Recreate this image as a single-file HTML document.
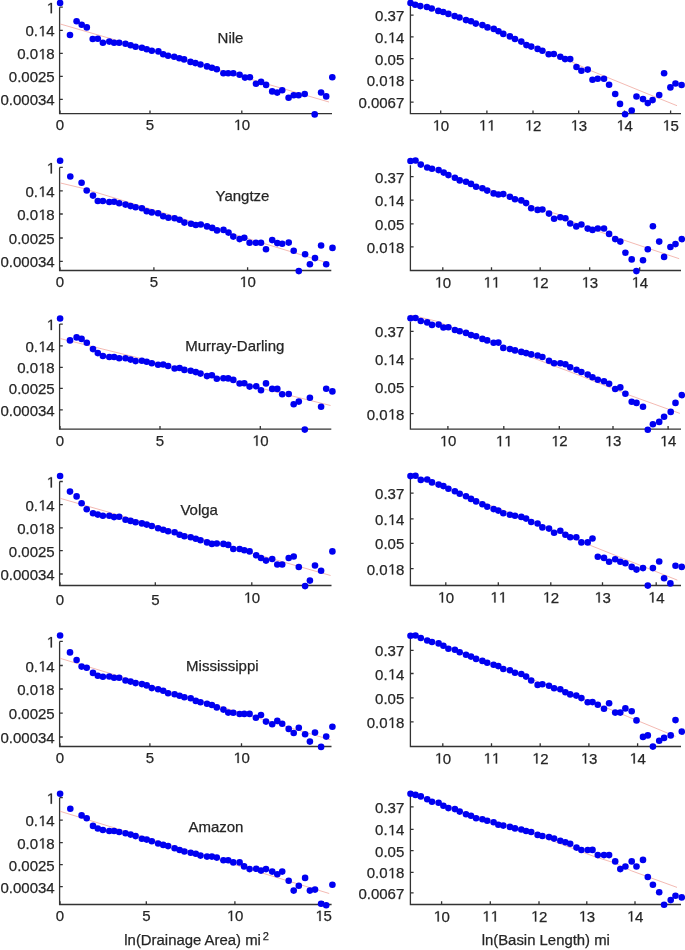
<!DOCTYPE html>
<html><head><meta charset="utf-8"><style>
html,body{margin:0;padding:0;background:#fff;width:685px;height:950px;overflow:hidden}
svg{display:block;will-change:transform}
text{font-family:"Liberation Sans",sans-serif;font-size:15px;fill:#262626;stroke:#262626;stroke-width:0.25}
.h{fill-opacity:0;stroke-opacity:0}
.yl{text-anchor:end}
.xl{text-anchor:middle}
.ax{fill:none;stroke:#333;stroke-width:1.3}
.fit{fill:none;stroke:#f0a8a0;stroke-width:0.8}
circle{fill:#0000f0}
.one{fill:#262626;stroke:#262626;stroke-width:34}
</style></head><body>
<svg width="685" height="950" viewBox="0 0 685 950">
<path d="M59.6 7.2V113.6H332" class="ax"/>
<path d="M59.6 7.2h3.2M59.6 30.3h3.2M59.6 53.3h3.2M59.6 76.3h3.2M59.6 99.3h3.2M60 113.6v-3.2M150 113.6v-3.2M241.8 113.6v-3.2" class="ax"/>
<text x="54.7" y="13.2" class="yl"><tspan class="h">1</tspan></text><path d="M583 0V1237L265 1010V1180L598 1409H764V0Z" class="one" transform="translate(46.36 13.20) scale(0.007324 -0.007324)"/>
<text x="54.7" y="36.3" class="yl">0.<tspan class="h">1</tspan>4</text><path d="M583 0V1237L265 1010V1180L598 1409H764V0Z" class="one" transform="translate(38.02 36.30) scale(0.007324 -0.007324)"/>
<text x="54.7" y="59.3" class="yl">0.0<tspan class="h">1</tspan>8</text><path d="M583 0V1237L265 1010V1180L598 1409H764V0Z" class="one" transform="translate(38.02 59.30) scale(0.007324 -0.007324)"/>
<text x="54.7" y="82.3" class="yl">0.0025</text>
<text x="54.7" y="105.3" class="yl">0.00034</text>
<text x="60" y="130.1" class="xl">0</text>
<text x="150" y="130.1" class="xl">5</text>
<text x="241.8" y="130.1" class="xl"><tspan class="h">1</tspan>0</text><path d="M583 0V1237L265 1010V1180L598 1409H764V0Z" class="one" transform="translate(233.46 130.10) scale(0.007324 -0.007324)"/>
<polyline points="60.3,24 329,102" class="fit"/>
<circle cx="60.1" cy="2.9" r="3.3"/>
<circle cx="70" cy="35" r="3.3"/>
<circle cx="76.6" cy="21.2" r="3.3"/>
<circle cx="81.7" cy="24.8" r="3.3"/>
<circle cx="86.8" cy="27.4" r="3.3"/>
<circle cx="92.7" cy="39" r="3.3"/>
<circle cx="97.8" cy="38.7" r="3.3"/>
<circle cx="102.9" cy="42.8" r="3.3"/>
<circle cx="109.3" cy="41.6" r="3.3"/>
<circle cx="114.1" cy="42.8" r="3.3"/>
<circle cx="119.2" cy="42.8" r="3.3"/>
<circle cx="125.5" cy="43.8" r="3.3"/>
<circle cx="130.6" cy="45.3" r="3.3"/>
<circle cx="135.6" cy="46.7" r="3.3"/>
<circle cx="141.9" cy="47.7" r="3.3"/>
<circle cx="146.7" cy="49.2" r="3.3"/>
<circle cx="151.8" cy="50.8" r="3.3"/>
<circle cx="158.4" cy="51.4" r="3.3"/>
<circle cx="163.2" cy="54.3" r="3.3"/>
<circle cx="168.1" cy="55.8" r="3.3"/>
<circle cx="174.2" cy="56.8" r="3.3"/>
<circle cx="179.3" cy="58.2" r="3.3"/>
<circle cx="184.1" cy="59.4" r="3.3"/>
<circle cx="190.5" cy="61.9" r="3.3"/>
<circle cx="195.4" cy="63.1" r="3.3"/>
<circle cx="200.5" cy="64.5" r="3.3"/>
<circle cx="207" cy="66.4" r="3.3"/>
<circle cx="211.9" cy="67.7" r="3.3"/>
<circle cx="216.8" cy="69.2" r="3.3"/>
<circle cx="223.4" cy="73.3" r="3.3"/>
<circle cx="228.2" cy="73.3" r="3.3"/>
<circle cx="233.3" cy="73.3" r="3.3"/>
<circle cx="239.6" cy="74.7" r="3.3"/>
<circle cx="245" cy="77.6" r="3.3"/>
<circle cx="249.9" cy="77.3" r="3.3"/>
<circle cx="256" cy="83.7" r="3.3"/>
<circle cx="261.1" cy="81.9" r="3.3"/>
<circle cx="266.1" cy="84.9" r="3.3"/>
<circle cx="272.2" cy="91.4" r="3.3"/>
<circle cx="277.2" cy="92.6" r="3.3"/>
<circle cx="282.2" cy="90.2" r="3.3"/>
<circle cx="288.6" cy="97.8" r="3.3"/>
<circle cx="293.7" cy="95.2" r="3.3"/>
<circle cx="298.6" cy="95.2" r="3.3"/>
<circle cx="304.7" cy="94" r="3.3"/>
<circle cx="314.7" cy="114.4" r="3.3"/>
<circle cx="321.1" cy="92.5" r="3.3"/>
<circle cx="326.2" cy="96.4" r="3.3"/>
<circle cx="332.3" cy="77.3" r="3.3"/>
<path d="M410.4 4V113.6H681" class="ax"/>
<path d="M410.4 15.2h3.2M410.4 36.8h3.2M410.4 58.6h3.2M410.4 80.3h3.2M410.4 102.1h3.2M440.7 113.6v-3.2M486.9 113.6v-3.2M533 113.6v-3.2M578.7 113.6v-3.2M624.5 113.6v-3.2M670.6 113.6v-3.2" class="ax"/>
<text x="404.3" y="21.2" class="yl">0.37</text>
<text x="404.3" y="42.8" class="yl">0.<tspan class="h">1</tspan>4</text><path d="M583 0V1237L265 1010V1180L598 1409H764V0Z" class="one" transform="translate(387.62 42.80) scale(0.007324 -0.007324)"/>
<text x="404.3" y="64.6" class="yl">0.05</text>
<text x="404.3" y="86.3" class="yl">0.0<tspan class="h">1</tspan>8</text><path d="M583 0V1237L265 1010V1180L598 1409H764V0Z" class="one" transform="translate(387.62 86.30) scale(0.007324 -0.007324)"/>
<text x="404.3" y="108.1" class="yl">0.0067</text>
<text x="440.7" y="130.6" class="xl"><tspan class="h">1</tspan>0</text><path d="M583 0V1237L265 1010V1180L598 1409H764V0Z" class="one" transform="translate(432.36 130.60) scale(0.007324 -0.007324)"/>
<text x="486.9" y="130.6" class="xl"><tspan class="h">1</tspan><tspan class="h">1</tspan></text><path d="M583 0V1237L265 1010V1180L598 1409H764V0Z" class="one" transform="translate(478.56 130.60) scale(0.007324 -0.007324)"/><path d="M583 0V1237L265 1010V1180L598 1409H764V0Z" class="one" transform="translate(486.90 130.60) scale(0.007324 -0.007324)"/>
<text x="533" y="130.6" class="xl"><tspan class="h">1</tspan>2</text><path d="M583 0V1237L265 1010V1180L598 1409H764V0Z" class="one" transform="translate(524.66 130.60) scale(0.007324 -0.007324)"/>
<text x="578.7" y="130.6" class="xl"><tspan class="h">1</tspan>3</text><path d="M583 0V1237L265 1010V1180L598 1409H764V0Z" class="one" transform="translate(570.36 130.60) scale(0.007324 -0.007324)"/>
<text x="624.5" y="130.6" class="xl"><tspan class="h">1</tspan>4</text><path d="M583 0V1237L265 1010V1180L598 1409H764V0Z" class="one" transform="translate(616.16 130.60) scale(0.007324 -0.007324)"/>
<text x="670.6" y="130.6" class="xl"><tspan class="h">1</tspan>5</text><path d="M583 0V1237L265 1010V1180L598 1409H764V0Z" class="one" transform="translate(662.26 130.60) scale(0.007324 -0.007324)"/>
<polyline points="410.5,3 466,20 504,34 572,62 591,70.7 648,94 677,105.7" class="fit"/>
<circle cx="410.5" cy="2.9" r="3.3"/>
<circle cx="415.2" cy="4.7" r="3.3"/>
<circle cx="420.3" cy="6.1" r="3.3"/>
<circle cx="426.9" cy="7" r="3.3"/>
<circle cx="431.7" cy="8.5" r="3.3"/>
<circle cx="438.3" cy="10.9" r="3.3"/>
<circle cx="443.2" cy="12" r="3.3"/>
<circle cx="448.4" cy="13.9" r="3.3"/>
<circle cx="454.6" cy="16.1" r="3.3"/>
<circle cx="459.5" cy="17.5" r="3.3"/>
<circle cx="466" cy="20.1" r="3.3"/>
<circle cx="471" cy="21.2" r="3.3"/>
<circle cx="475.8" cy="23.6" r="3.3"/>
<circle cx="482.4" cy="25.1" r="3.3"/>
<circle cx="487.5" cy="27.4" r="3.3"/>
<circle cx="493.8" cy="28.9" r="3.3"/>
<circle cx="498.5" cy="31.2" r="3.3"/>
<circle cx="503.3" cy="33.9" r="3.3"/>
<circle cx="509.9" cy="36.4" r="3.3"/>
<circle cx="515" cy="39" r="3.3"/>
<circle cx="521.3" cy="41.6" r="3.3"/>
<circle cx="526.4" cy="45.1" r="3.3"/>
<circle cx="531.2" cy="46.6" r="3.3"/>
<circle cx="537.6" cy="48.9" r="3.3"/>
<circle cx="542.4" cy="50.7" r="3.3"/>
<circle cx="548.7" cy="54.3" r="3.3"/>
<circle cx="553.8" cy="54" r="3.3"/>
<circle cx="560.3" cy="56.8" r="3.3"/>
<circle cx="565.1" cy="59.1" r="3.3"/>
<circle cx="570.2" cy="59.1" r="3.3"/>
<circle cx="576.5" cy="67" r="3.3"/>
<circle cx="581.4" cy="70.7" r="3.3"/>
<circle cx="587.7" cy="69.6" r="3.3"/>
<circle cx="592.5" cy="79.8" r="3.3"/>
<circle cx="597.7" cy="78.7" r="3.3"/>
<circle cx="604" cy="78.7" r="3.3"/>
<circle cx="609.1" cy="84.8" r="3.3"/>
<circle cx="615.2" cy="94" r="3.3"/>
<circle cx="620" cy="103.9" r="3.3"/>
<circle cx="625.1" cy="114.2" r="3.3"/>
<circle cx="631.7" cy="110.5" r="3.3"/>
<circle cx="636.5" cy="96.5" r="3.3"/>
<circle cx="643" cy="99.1" r="3.3"/>
<circle cx="647.8" cy="103.1" r="3.3"/>
<circle cx="652.6" cy="100.1" r="3.3"/>
<circle cx="659.2" cy="95" r="3.3"/>
<circle cx="664.1" cy="73.3" r="3.3"/>
<circle cx="670.4" cy="87.4" r="3.3"/>
<circle cx="675.5" cy="83.5" r="3.3"/>
<circle cx="681.6" cy="85" r="3.3"/>
<path d="M59.6 167.4V270.5H331.3" class="ax"/>
<path d="M59.6 167.4h3.2M59.6 190.8h3.2M59.6 214h3.2M59.6 238h3.2M59.6 261.4h3.2M60 270.5v-3.2M153.9 270.5v-3.2M247.6 270.5v-3.2" class="ax"/>
<text x="54.7" y="173.4" class="yl"><tspan class="h">1</tspan></text><path d="M583 0V1237L265 1010V1180L598 1409H764V0Z" class="one" transform="translate(46.36 173.40) scale(0.007324 -0.007324)"/>
<text x="54.7" y="196.8" class="yl">0.<tspan class="h">1</tspan>4</text><path d="M583 0V1237L265 1010V1180L598 1409H764V0Z" class="one" transform="translate(38.02 196.80) scale(0.007324 -0.007324)"/>
<text x="54.7" y="220" class="yl">0.0<tspan class="h">1</tspan>8</text><path d="M583 0V1237L265 1010V1180L598 1409H764V0Z" class="one" transform="translate(38.02 220.00) scale(0.007324 -0.007324)"/>
<text x="54.7" y="244" class="yl">0.0025</text>
<text x="54.7" y="267.4" class="yl">0.00034</text>
<text x="60" y="287" class="xl">0</text>
<text x="153.9" y="287" class="xl">5</text>
<text x="247.6" y="287" class="xl"><tspan class="h">1</tspan>0</text><path d="M583 0V1237L265 1010V1180L598 1409H764V0Z" class="one" transform="translate(239.26 287.00) scale(0.007324 -0.007324)"/>
<polyline points="60.5,183 82.7,188.3 328.4,263.1" class="fit"/>
<circle cx="60.1" cy="160.8" r="3.3"/>
<circle cx="70.3" cy="176.5" r="3.3"/>
<circle cx="81.6" cy="182.7" r="3.3"/>
<circle cx="86.7" cy="190.5" r="3.3"/>
<circle cx="93" cy="195.6" r="3.3"/>
<circle cx="97.8" cy="201" r="3.3"/>
<circle cx="102.9" cy="201" r="3.3"/>
<circle cx="109.3" cy="202" r="3.3"/>
<circle cx="114.1" cy="201.7" r="3.3"/>
<circle cx="119.2" cy="203.2" r="3.3"/>
<circle cx="125.5" cy="204.6" r="3.3"/>
<circle cx="130.6" cy="206.1" r="3.3"/>
<circle cx="135.6" cy="207.3" r="3.3"/>
<circle cx="141.9" cy="208.3" r="3.3"/>
<circle cx="146.7" cy="211.2" r="3.3"/>
<circle cx="151.8" cy="212.4" r="3.3"/>
<circle cx="158.1" cy="213.3" r="3.3"/>
<circle cx="163.2" cy="216.2" r="3.3"/>
<circle cx="168.4" cy="217.7" r="3.3"/>
<circle cx="174.6" cy="218.2" r="3.3"/>
<circle cx="179.6" cy="219.7" r="3.3"/>
<circle cx="184.4" cy="222.6" r="3.3"/>
<circle cx="191" cy="223.8" r="3.3"/>
<circle cx="195.8" cy="225" r="3.3"/>
<circle cx="200.8" cy="224.5" r="3.3"/>
<circle cx="207" cy="226.4" r="3.3"/>
<circle cx="212.2" cy="227.9" r="3.3"/>
<circle cx="217" cy="230.4" r="3.3"/>
<circle cx="223.5" cy="229.9" r="3.3"/>
<circle cx="228.5" cy="232.6" r="3.3"/>
<circle cx="233.3" cy="236.6" r="3.3"/>
<circle cx="239.6" cy="239.1" r="3.3"/>
<circle cx="244.3" cy="237.7" r="3.3"/>
<circle cx="249.6" cy="242.8" r="3.3"/>
<circle cx="255.9" cy="242.8" r="3.3"/>
<circle cx="261" cy="242.8" r="3.3"/>
<circle cx="266" cy="249.3" r="3.3"/>
<circle cx="272.2" cy="240.1" r="3.3"/>
<circle cx="277.3" cy="243.1" r="3.3"/>
<circle cx="282.2" cy="243.8" r="3.3"/>
<circle cx="288.7" cy="242.6" r="3.3"/>
<circle cx="293.7" cy="250.7" r="3.3"/>
<circle cx="298.8" cy="271.1" r="3.3"/>
<circle cx="305.1" cy="254.3" r="3.3"/>
<circle cx="309.9" cy="264.2" r="3.3"/>
<circle cx="315" cy="258.1" r="3.3"/>
<circle cx="321.1" cy="245.5" r="3.3"/>
<circle cx="326.2" cy="264.2" r="3.3"/>
<circle cx="332.5" cy="247.9" r="3.3"/>
<path d="M410.4 165.3V270.5H681" class="ax"/>
<path d="M410.4 176.7h3.2M410.4 200.1h3.2M410.4 223.8h3.2M410.4 246.9h3.2M442.8 270.5v-3.2M491.5 270.5v-3.2M540.2 270.5v-3.2M589.7 270.5v-3.2M639.7 270.5v-3.2" class="ax"/>
<text x="404.3" y="182.7" class="yl">0.37</text>
<text x="404.3" y="206.1" class="yl">0.<tspan class="h">1</tspan>4</text><path d="M583 0V1237L265 1010V1180L598 1409H764V0Z" class="one" transform="translate(387.62 206.10) scale(0.007324 -0.007324)"/>
<text x="404.3" y="229.8" class="yl">0.05</text>
<text x="404.3" y="252.9" class="yl">0.0<tspan class="h">1</tspan>8</text><path d="M583 0V1237L265 1010V1180L598 1409H764V0Z" class="one" transform="translate(387.62 252.90) scale(0.007324 -0.007324)"/>
<text x="442.8" y="287.5" class="xl"><tspan class="h">1</tspan>0</text><path d="M583 0V1237L265 1010V1180L598 1409H764V0Z" class="one" transform="translate(434.46 287.50) scale(0.007324 -0.007324)"/>
<text x="491.5" y="287.5" class="xl"><tspan class="h">1</tspan><tspan class="h">1</tspan></text><path d="M583 0V1237L265 1010V1180L598 1409H764V0Z" class="one" transform="translate(483.16 287.50) scale(0.007324 -0.007324)"/><path d="M583 0V1237L265 1010V1180L598 1409H764V0Z" class="one" transform="translate(491.50 287.50) scale(0.007324 -0.007324)"/>
<text x="540.2" y="287.5" class="xl"><tspan class="h">1</tspan>2</text><path d="M583 0V1237L265 1010V1180L598 1409H764V0Z" class="one" transform="translate(531.86 287.50) scale(0.007324 -0.007324)"/>
<text x="589.7" y="287.5" class="xl"><tspan class="h">1</tspan>3</text><path d="M583 0V1237L265 1010V1180L598 1409H764V0Z" class="one" transform="translate(581.36 287.50) scale(0.007324 -0.007324)"/>
<text x="639.7" y="287.5" class="xl"><tspan class="h">1</tspan>4</text><path d="M583 0V1237L265 1010V1180L598 1409H764V0Z" class="one" transform="translate(631.36 287.50) scale(0.007324 -0.007324)"/>
<polyline points="410.5,161 466,182 503,194 537,208 557.8,214.3 573.8,222.3 592,229 620.8,239.1 679.2,258.7" class="fit"/>
<circle cx="410.5" cy="161" r="3.3"/>
<circle cx="415.5" cy="160.5" r="3.3"/>
<circle cx="420.8" cy="164.6" r="3.3"/>
<circle cx="427.2" cy="167.5" r="3.3"/>
<circle cx="432" cy="168.7" r="3.3"/>
<circle cx="438.6" cy="170.1" r="3.3"/>
<circle cx="443.7" cy="172.6" r="3.3"/>
<circle cx="448.4" cy="175.1" r="3.3"/>
<circle cx="454.9" cy="177.7" r="3.3"/>
<circle cx="459.7" cy="180.4" r="3.3"/>
<circle cx="466" cy="181.8" r="3.3"/>
<circle cx="471" cy="183.9" r="3.3"/>
<circle cx="476.1" cy="186.8" r="3.3"/>
<circle cx="482.4" cy="188.2" r="3.3"/>
<circle cx="487.2" cy="190.6" r="3.3"/>
<circle cx="493.6" cy="193.4" r="3.3"/>
<circle cx="498.4" cy="194.5" r="3.3"/>
<circle cx="503.3" cy="194.1" r="3.3"/>
<circle cx="509.9" cy="196.8" r="3.3"/>
<circle cx="515" cy="199.3" r="3.3"/>
<circle cx="521.3" cy="200.4" r="3.3"/>
<circle cx="526.1" cy="203.1" r="3.3"/>
<circle cx="531.2" cy="208.2" r="3.3"/>
<circle cx="537.6" cy="209.9" r="3.3"/>
<circle cx="542.4" cy="209.5" r="3.3"/>
<circle cx="549" cy="213.6" r="3.3"/>
<circle cx="554.1" cy="218.7" r="3.3"/>
<circle cx="560.3" cy="217.2" r="3.3"/>
<circle cx="565.4" cy="218.2" r="3.3"/>
<circle cx="570.2" cy="223.5" r="3.3"/>
<circle cx="576.3" cy="226.4" r="3.3"/>
<circle cx="581.4" cy="224.5" r="3.3"/>
<circle cx="587.7" cy="228.6" r="3.3"/>
<circle cx="592.5" cy="229.9" r="3.3"/>
<circle cx="597.8" cy="228.5" r="3.3"/>
<circle cx="604" cy="228.5" r="3.3"/>
<circle cx="609.1" cy="233.9" r="3.3"/>
<circle cx="615.2" cy="239.1" r="3.3"/>
<circle cx="620.3" cy="241.6" r="3.3"/>
<circle cx="625.4" cy="252.8" r="3.3"/>
<circle cx="631.7" cy="259.4" r="3.3"/>
<circle cx="636.4" cy="271.1" r="3.3"/>
<circle cx="643" cy="260.3" r="3.3"/>
<circle cx="647.8" cy="249.3" r="3.3"/>
<circle cx="652.9" cy="226.3" r="3.3"/>
<circle cx="659.2" cy="241.6" r="3.3"/>
<circle cx="664.1" cy="256.9" r="3.3"/>
<circle cx="670.4" cy="247" r="3.3"/>
<circle cx="675.5" cy="244.1" r="3.3"/>
<circle cx="681.8" cy="239.1" r="3.3"/>
<path d="M59.6 324.1V429.2H331.3" class="ax"/>
<path d="M59.6 324.1h3.2M59.6 345.8h3.2M59.6 367.3h3.2M59.6 388.4h3.2M59.6 409.8h3.2M60 429.2v-3.2M160 429.2v-3.2M260.3 429.2v-3.2" class="ax"/>
<text x="54.7" y="330.1" class="yl"><tspan class="h">1</tspan></text><path d="M583 0V1237L265 1010V1180L598 1409H764V0Z" class="one" transform="translate(46.36 330.10) scale(0.007324 -0.007324)"/>
<text x="54.7" y="351.8" class="yl">0.<tspan class="h">1</tspan>4</text><path d="M583 0V1237L265 1010V1180L598 1409H764V0Z" class="one" transform="translate(38.02 351.80) scale(0.007324 -0.007324)"/>
<text x="54.7" y="373.3" class="yl">0.0<tspan class="h">1</tspan>8</text><path d="M583 0V1237L265 1010V1180L598 1409H764V0Z" class="one" transform="translate(38.02 373.30) scale(0.007324 -0.007324)"/>
<text x="54.7" y="394.4" class="yl">0.0025</text>
<text x="54.7" y="415.8" class="yl">0.00034</text>
<text x="60" y="445.8" class="xl">0</text>
<text x="160" y="445.8" class="xl">5</text>
<text x="260.3" y="445.8" class="xl"><tspan class="h">1</tspan>0</text><path d="M583 0V1237L265 1010V1180L598 1409H764V0Z" class="one" transform="translate(251.96 445.75) scale(0.007324 -0.007324)"/>
<polyline points="60.1,338.5 330.6,405.5" class="fit"/>
<circle cx="60.1" cy="318.5" r="3.3"/>
<circle cx="70" cy="340.4" r="3.3"/>
<circle cx="76.6" cy="337.4" r="3.3"/>
<circle cx="81.6" cy="338.9" r="3.3"/>
<circle cx="86.8" cy="342.8" r="3.3"/>
<circle cx="93" cy="349.1" r="3.3"/>
<circle cx="97.8" cy="353.1" r="3.3"/>
<circle cx="102.9" cy="356" r="3.3"/>
<circle cx="109.3" cy="357" r="3.3"/>
<circle cx="114.1" cy="357" r="3.3"/>
<circle cx="119.2" cy="358.2" r="3.3"/>
<circle cx="125.5" cy="358.2" r="3.3"/>
<circle cx="130.6" cy="359.6" r="3.3"/>
<circle cx="135.6" cy="361.1" r="3.3"/>
<circle cx="141.9" cy="360.8" r="3.3"/>
<circle cx="146.7" cy="361.8" r="3.3"/>
<circle cx="151.8" cy="363.3" r="3.3"/>
<circle cx="158.1" cy="364.8" r="3.3"/>
<circle cx="163.2" cy="364.5" r="3.3"/>
<circle cx="168.1" cy="366" r="3.3"/>
<circle cx="174.6" cy="368.5" r="3.3"/>
<circle cx="179.6" cy="368" r="3.3"/>
<circle cx="184.4" cy="369.9" r="3.3"/>
<circle cx="190.7" cy="370.7" r="3.3"/>
<circle cx="195.8" cy="372.1" r="3.3"/>
<circle cx="200.5" cy="373.6" r="3.3"/>
<circle cx="207" cy="376.1" r="3.3"/>
<circle cx="211.9" cy="375.3" r="3.3"/>
<circle cx="216.8" cy="378.7" r="3.3"/>
<circle cx="223.4" cy="378.2" r="3.3"/>
<circle cx="228.2" cy="378.4" r="3.3"/>
<circle cx="233.3" cy="379.9" r="3.3"/>
<circle cx="239.6" cy="383.5" r="3.3"/>
<circle cx="244.3" cy="383.3" r="3.3"/>
<circle cx="249.6" cy="386.6" r="3.3"/>
<circle cx="256.2" cy="386.3" r="3.3"/>
<circle cx="261" cy="390.2" r="3.3"/>
<circle cx="266" cy="383.4" r="3.3"/>
<circle cx="272.2" cy="388.9" r="3.3"/>
<circle cx="277.3" cy="388.9" r="3.3"/>
<circle cx="282.2" cy="394.3" r="3.3"/>
<circle cx="288.7" cy="394" r="3.3"/>
<circle cx="293.7" cy="404.2" r="3.3"/>
<circle cx="298.8" cy="401.6" r="3.3"/>
<circle cx="304.8" cy="429.6" r="3.3"/>
<circle cx="309.9" cy="397.7" r="3.3"/>
<circle cx="321.1" cy="406.7" r="3.3"/>
<circle cx="326.2" cy="388.8" r="3.3"/>
<circle cx="332.4" cy="391.4" r="3.3"/>
<path d="M410.4 321.5V429.2H681" class="ax"/>
<path d="M410.4 331.3h3.2M410.4 358.9h3.2M410.4 386.7h3.2M410.4 413.6h3.2M447.9 429.2v-3.2M503.8 429.2v-3.2M559.3 429.2v-3.2M613 429.2v-3.2M668.1 429.2v-3.2" class="ax"/>
<text x="404.3" y="337.3" class="yl">0.37</text>
<text x="404.3" y="364.9" class="yl">0.<tspan class="h">1</tspan>4</text><path d="M583 0V1237L265 1010V1180L598 1409H764V0Z" class="one" transform="translate(387.62 364.90) scale(0.007324 -0.007324)"/>
<text x="404.3" y="392.7" class="yl">0.05</text>
<text x="404.3" y="419.6" class="yl">0.0<tspan class="h">1</tspan>8</text><path d="M583 0V1237L265 1010V1180L598 1409H764V0Z" class="one" transform="translate(387.62 419.60) scale(0.007324 -0.007324)"/>
<text x="447.9" y="446.2" class="xl"><tspan class="h">1</tspan>0</text><path d="M583 0V1237L265 1010V1180L598 1409H764V0Z" class="one" transform="translate(439.56 446.25) scale(0.007324 -0.007324)"/>
<text x="503.8" y="446.2" class="xl"><tspan class="h">1</tspan><tspan class="h">1</tspan></text><path d="M583 0V1237L265 1010V1180L598 1409H764V0Z" class="one" transform="translate(495.46 446.25) scale(0.007324 -0.007324)"/><path d="M583 0V1237L265 1010V1180L598 1409H764V0Z" class="one" transform="translate(503.80 446.25) scale(0.007324 -0.007324)"/>
<text x="559.3" y="446.2" class="xl"><tspan class="h">1</tspan>2</text><path d="M583 0V1237L265 1010V1180L598 1409H764V0Z" class="one" transform="translate(550.96 446.25) scale(0.007324 -0.007324)"/>
<text x="613" y="446.2" class="xl"><tspan class="h">1</tspan>3</text><path d="M583 0V1237L265 1010V1180L598 1409H764V0Z" class="one" transform="translate(604.66 446.25) scale(0.007324 -0.007324)"/>
<text x="668.1" y="446.2" class="xl"><tspan class="h">1</tspan>4</text><path d="M583 0V1237L265 1010V1180L598 1409H764V0Z" class="one" transform="translate(659.76 446.25) scale(0.007324 -0.007324)"/>
<polyline points="410.5,315 435.7,321 482,339 528.6,356.3 575.3,373.8 627.3,394.4 679.9,413.4" class="fit"/>
<circle cx="410.5" cy="318.3" r="3.3"/>
<circle cx="415.5" cy="318" r="3.3"/>
<circle cx="420.8" cy="321" r="3.3"/>
<circle cx="427.2" cy="322.4" r="3.3"/>
<circle cx="432" cy="324.9" r="3.3"/>
<circle cx="438.6" cy="324.6" r="3.3"/>
<circle cx="443.4" cy="327.5" r="3.3"/>
<circle cx="448.4" cy="327.2" r="3.3"/>
<circle cx="454.9" cy="330" r="3.3"/>
<circle cx="459.7" cy="331.2" r="3.3"/>
<circle cx="466" cy="332.9" r="3.3"/>
<circle cx="471" cy="335.1" r="3.3"/>
<circle cx="476.1" cy="336.3" r="3.3"/>
<circle cx="482.4" cy="338.9" r="3.3"/>
<circle cx="487.2" cy="340.4" r="3.3"/>
<circle cx="493.6" cy="342.8" r="3.3"/>
<circle cx="498.4" cy="342.6" r="3.3"/>
<circle cx="503.3" cy="347.9" r="3.3"/>
<circle cx="509.9" cy="349" r="3.3"/>
<circle cx="515" cy="350.4" r="3.3"/>
<circle cx="521.3" cy="351.9" r="3.3"/>
<circle cx="526.1" cy="353.1" r="3.3"/>
<circle cx="531.2" cy="354.4" r="3.3"/>
<circle cx="537.6" cy="355.5" r="3.3"/>
<circle cx="542.4" cy="357" r="3.3"/>
<circle cx="549" cy="360.7" r="3.3"/>
<circle cx="554.1" cy="363.3" r="3.3"/>
<circle cx="560.3" cy="363.3" r="3.3"/>
<circle cx="565.4" cy="364.3" r="3.3"/>
<circle cx="570.2" cy="367.2" r="3.3"/>
<circle cx="576.5" cy="369.7" r="3.3"/>
<circle cx="581.4" cy="372" r="3.3"/>
<circle cx="587.7" cy="374.6" r="3.3"/>
<circle cx="592.5" cy="377.3" r="3.3"/>
<circle cx="597.8" cy="379.8" r="3.3"/>
<circle cx="604" cy="381.3" r="3.3"/>
<circle cx="609.1" cy="383.8" r="3.3"/>
<circle cx="615.2" cy="389" r="3.3"/>
<circle cx="620.3" cy="387.4" r="3.3"/>
<circle cx="625.4" cy="393.7" r="3.3"/>
<circle cx="631.7" cy="401.7" r="3.3"/>
<circle cx="636.5" cy="402.9" r="3.3"/>
<circle cx="643" cy="406.8" r="3.3"/>
<circle cx="647.8" cy="429.7" r="3.3"/>
<circle cx="652.9" cy="424.3" r="3.3"/>
<circle cx="659.2" cy="421.9" r="3.3"/>
<circle cx="664.1" cy="416.8" r="3.3"/>
<circle cx="670.7" cy="411.9" r="3.3"/>
<circle cx="675.5" cy="402.9" r="3.3"/>
<circle cx="681.8" cy="395.1" r="3.3"/>
<path d="M59.6 481.5V585.5H331.5" class="ax"/>
<path d="M59.6 481.5h3.2M59.6 504.6h3.2M59.6 527.8h3.2M59.6 550.6h3.2M59.6 574h3.2M60 585.5v-3.2M155.3 585.5v-3.2M251.8 585.5v-3.2" class="ax"/>
<text x="54.7" y="487.5" class="yl"><tspan class="h">1</tspan></text><path d="M583 0V1237L265 1010V1180L598 1409H764V0Z" class="one" transform="translate(46.36 487.50) scale(0.007324 -0.007324)"/>
<text x="54.7" y="510.6" class="yl">0.<tspan class="h">1</tspan>4</text><path d="M583 0V1237L265 1010V1180L598 1409H764V0Z" class="one" transform="translate(38.02 510.60) scale(0.007324 -0.007324)"/>
<text x="54.7" y="533.8" class="yl">0.0<tspan class="h">1</tspan>8</text><path d="M583 0V1237L265 1010V1180L598 1409H764V0Z" class="one" transform="translate(38.02 533.80) scale(0.007324 -0.007324)"/>
<text x="54.7" y="556.6" class="yl">0.0025</text>
<text x="54.7" y="580" class="yl">0.00034</text>
<text x="60" y="605.2" class="xl">0</text>
<text x="155.3" y="605.2" class="xl">5</text>
<text x="251.8" y="602.8" class="xl"><tspan class="h">1</tspan>0</text><path d="M583 0V1237L265 1010V1180L598 1409H764V0Z" class="one" transform="translate(243.46 602.80) scale(0.007324 -0.007324)"/>
<polyline points="60.1,498.3 330.6,575.5" class="fit"/>
<circle cx="60.1" cy="476" r="3.3"/>
<circle cx="70" cy="491.6" r="3.3"/>
<circle cx="76.6" cy="496.4" r="3.3"/>
<circle cx="81.6" cy="503.2" r="3.3"/>
<circle cx="86.7" cy="509.2" r="3.3"/>
<circle cx="93" cy="513.2" r="3.3"/>
<circle cx="97.8" cy="514.6" r="3.3"/>
<circle cx="102.9" cy="515.8" r="3.3"/>
<circle cx="109.3" cy="515.8" r="3.3"/>
<circle cx="114.1" cy="517.1" r="3.3"/>
<circle cx="119.2" cy="516.8" r="3.3"/>
<circle cx="125.5" cy="519.7" r="3.3"/>
<circle cx="130.6" cy="520.9" r="3.3"/>
<circle cx="135.6" cy="522.2" r="3.3"/>
<circle cx="141.9" cy="523.4" r="3.3"/>
<circle cx="146.7" cy="524.6" r="3.3"/>
<circle cx="151.8" cy="526" r="3.3"/>
<circle cx="158.1" cy="528.3" r="3.3"/>
<circle cx="163.2" cy="529.7" r="3.3"/>
<circle cx="168.1" cy="531.2" r="3.3"/>
<circle cx="174.6" cy="532.2" r="3.3"/>
<circle cx="179.6" cy="534.7" r="3.3"/>
<circle cx="184.4" cy="536.2" r="3.3"/>
<circle cx="190.7" cy="537.3" r="3.3"/>
<circle cx="195.8" cy="538.8" r="3.3"/>
<circle cx="200.5" cy="540.3" r="3.3"/>
<circle cx="207" cy="542.4" r="3.3"/>
<circle cx="211.9" cy="543.9" r="3.3"/>
<circle cx="216.8" cy="543.5" r="3.3"/>
<circle cx="223.4" cy="543.9" r="3.3"/>
<circle cx="228.2" cy="544.9" r="3.3"/>
<circle cx="233.3" cy="549" r="3.3"/>
<circle cx="239.6" cy="549" r="3.3"/>
<circle cx="244.3" cy="550.3" r="3.3"/>
<circle cx="249.6" cy="551.4" r="3.3"/>
<circle cx="256.2" cy="555.3" r="3.3"/>
<circle cx="261" cy="558" r="3.3"/>
<circle cx="266" cy="560.6" r="3.3"/>
<circle cx="272.2" cy="559" r="3.3"/>
<circle cx="277.3" cy="564.5" r="3.3"/>
<circle cx="282.2" cy="564.5" r="3.3"/>
<circle cx="288.7" cy="558" r="3.3"/>
<circle cx="293.7" cy="556.5" r="3.3"/>
<circle cx="298.8" cy="567" r="3.3"/>
<circle cx="305.1" cy="586.1" r="3.3"/>
<circle cx="309.9" cy="580.6" r="3.3"/>
<circle cx="315" cy="565.5" r="3.3"/>
<circle cx="321.1" cy="570.7" r="3.3"/>
<circle cx="332.4" cy="551.4" r="3.3"/>
<path d="M410.4 478.5V585.5H681" class="ax"/>
<path d="M410.4 493.2h3.2M410.4 518.9h3.2M410.4 543.3h3.2M410.4 568.6h3.2M445.8 585.5v-3.2M498.3 585.5v-3.2M550.8 585.5v-3.2M602.5 585.5v-3.2M656.2 585.5v-3.2" class="ax"/>
<text x="404.3" y="499.2" class="yl">0.37</text>
<text x="404.3" y="524.9" class="yl">0.<tspan class="h">1</tspan>4</text><path d="M583 0V1237L265 1010V1180L598 1409H764V0Z" class="one" transform="translate(387.62 524.90) scale(0.007324 -0.007324)"/>
<text x="404.3" y="549.3" class="yl">0.05</text>
<text x="404.3" y="574.6" class="yl">0.0<tspan class="h">1</tspan>8</text><path d="M583 0V1237L265 1010V1180L598 1409H764V0Z" class="one" transform="translate(387.62 574.60) scale(0.007324 -0.007324)"/>
<text x="445.8" y="602.5" class="xl"><tspan class="h">1</tspan>0</text><path d="M583 0V1237L265 1010V1180L598 1409H764V0Z" class="one" transform="translate(437.46 602.50) scale(0.007324 -0.007324)"/>
<text x="498.3" y="602.5" class="xl"><tspan class="h">1</tspan><tspan class="h">1</tspan></text><path d="M583 0V1237L265 1010V1180L598 1409H764V0Z" class="one" transform="translate(489.96 602.50) scale(0.007324 -0.007324)"/><path d="M583 0V1237L265 1010V1180L598 1409H764V0Z" class="one" transform="translate(498.30 602.50) scale(0.007324 -0.007324)"/>
<text x="550.8" y="602.5" class="xl"><tspan class="h">1</tspan>2</text><path d="M583 0V1237L265 1010V1180L598 1409H764V0Z" class="one" transform="translate(542.46 602.50) scale(0.007324 -0.007324)"/>
<text x="602.5" y="602.5" class="xl"><tspan class="h">1</tspan>3</text><path d="M583 0V1237L265 1010V1180L598 1409H764V0Z" class="one" transform="translate(594.16 602.50) scale(0.007324 -0.007324)"/>
<text x="656.2" y="602.5" class="xl"><tspan class="h">1</tspan>4</text><path d="M583 0V1237L265 1010V1180L598 1409H764V0Z" class="one" transform="translate(647.86 602.50) scale(0.007324 -0.007324)"/>
<polyline points="410.5,476 466,496 531,521 589.4,545 677.3,580.1" class="fit"/>
<circle cx="410.5" cy="476.1" r="3.3"/>
<circle cx="415.5" cy="475.8" r="3.3"/>
<circle cx="420.8" cy="479.9" r="3.3"/>
<circle cx="427.2" cy="479.5" r="3.3"/>
<circle cx="432" cy="482.4" r="3.3"/>
<circle cx="438.6" cy="484.6" r="3.3"/>
<circle cx="443.4" cy="486.1" r="3.3"/>
<circle cx="448.4" cy="488.7" r="3.3"/>
<circle cx="454.9" cy="491.2" r="3.3"/>
<circle cx="459.7" cy="493.8" r="3.3"/>
<circle cx="466" cy="496.3" r="3.3"/>
<circle cx="471" cy="498.9" r="3.3"/>
<circle cx="476.1" cy="501.4" r="3.3"/>
<circle cx="482.4" cy="504.3" r="3.3"/>
<circle cx="487.2" cy="506.8" r="3.3"/>
<circle cx="493.6" cy="509.1" r="3.3"/>
<circle cx="498.3" cy="510.6" r="3.3"/>
<circle cx="503.3" cy="513.3" r="3.3"/>
<circle cx="509.9" cy="514.7" r="3.3"/>
<circle cx="515" cy="515.7" r="3.3"/>
<circle cx="521.3" cy="516.9" r="3.3"/>
<circle cx="526.1" cy="518.6" r="3.3"/>
<circle cx="531.2" cy="522" r="3.3"/>
<circle cx="537.6" cy="523.5" r="3.3"/>
<circle cx="542.4" cy="527.4" r="3.3"/>
<circle cx="549" cy="528.6" r="3.3"/>
<circle cx="554.1" cy="532.7" r="3.3"/>
<circle cx="560.3" cy="530.8" r="3.3"/>
<circle cx="565.4" cy="534.7" r="3.3"/>
<circle cx="570.2" cy="537.3" r="3.3"/>
<circle cx="576.3" cy="537.3" r="3.3"/>
<circle cx="581.4" cy="542.4" r="3.3"/>
<circle cx="587.7" cy="542.4" r="3.3"/>
<circle cx="592.5" cy="538.5" r="3.3"/>
<circle cx="597.8" cy="556.7" r="3.3"/>
<circle cx="604" cy="557.9" r="3.3"/>
<circle cx="609.1" cy="561.8" r="3.3"/>
<circle cx="615.2" cy="559.3" r="3.3"/>
<circle cx="620.3" cy="561.8" r="3.3"/>
<circle cx="625.4" cy="563.3" r="3.3"/>
<circle cx="631.7" cy="566.9" r="3.3"/>
<circle cx="636.5" cy="569.6" r="3.3"/>
<circle cx="643" cy="568.1" r="3.3"/>
<circle cx="647.8" cy="585.6" r="3.3"/>
<circle cx="652.9" cy="568.1" r="3.3"/>
<circle cx="659.2" cy="561.5" r="3.3"/>
<circle cx="664.1" cy="578.2" r="3.3"/>
<circle cx="670.4" cy="583.4" r="3.3"/>
<circle cx="675.5" cy="565.8" r="3.3"/>
<circle cx="681.8" cy="566.9" r="3.3"/>
<path d="M59.6 641.4V746.5H331.5" class="ax"/>
<path d="M59.6 641.4h3.2M59.6 665.5h3.2M59.6 689h3.2M59.6 713.1h3.2M59.6 737h3.2M60 746.5v-3.2M149.9 746.5v-3.2M241.5 746.5v-3.2" class="ax"/>
<text x="54.7" y="647.4" class="yl"><tspan class="h">1</tspan></text><path d="M583 0V1237L265 1010V1180L598 1409H764V0Z" class="one" transform="translate(46.36 647.40) scale(0.007324 -0.007324)"/>
<text x="54.7" y="671.5" class="yl">0.<tspan class="h">1</tspan>4</text><path d="M583 0V1237L265 1010V1180L598 1409H764V0Z" class="one" transform="translate(38.02 671.50) scale(0.007324 -0.007324)"/>
<text x="54.7" y="695" class="yl">0.0<tspan class="h">1</tspan>8</text><path d="M583 0V1237L265 1010V1180L598 1409H764V0Z" class="one" transform="translate(38.02 695.00) scale(0.007324 -0.007324)"/>
<text x="54.7" y="719.1" class="yl">0.0025</text>
<text x="54.7" y="743" class="yl">0.00034</text>
<text x="60" y="763" class="xl">0</text>
<text x="149.9" y="763" class="xl">5</text>
<text x="241.5" y="763" class="xl"><tspan class="h">1</tspan>0</text><path d="M583 0V1237L265 1010V1180L598 1409H764V0Z" class="one" transform="translate(233.16 763.00) scale(0.007324 -0.007324)"/>
<polyline points="60.1,658.3 330.6,739.9" class="fit"/>
<circle cx="60.1" cy="635.5" r="3.3"/>
<circle cx="70" cy="652.4" r="3.3"/>
<circle cx="76.6" cy="660" r="3.3"/>
<circle cx="81.6" cy="666.6" r="3.3"/>
<circle cx="86.7" cy="667.8" r="3.3"/>
<circle cx="93" cy="672.9" r="3.3"/>
<circle cx="97.8" cy="675.7" r="3.3"/>
<circle cx="102.9" cy="676.8" r="3.3"/>
<circle cx="109.3" cy="676.5" r="3.3"/>
<circle cx="114.1" cy="677.8" r="3.3"/>
<circle cx="119.2" cy="677.8" r="3.3"/>
<circle cx="125.5" cy="680.5" r="3.3"/>
<circle cx="130.6" cy="681.6" r="3.3"/>
<circle cx="135.6" cy="683.1" r="3.3"/>
<circle cx="141.9" cy="684.1" r="3.3"/>
<circle cx="146.7" cy="685.4" r="3.3"/>
<circle cx="151.8" cy="688.1" r="3.3"/>
<circle cx="158.1" cy="689.2" r="3.3"/>
<circle cx="163.2" cy="690.7" r="3.3"/>
<circle cx="168.1" cy="693.3" r="3.3"/>
<circle cx="174.6" cy="694.3" r="3.3"/>
<circle cx="179.6" cy="695.8" r="3.3"/>
<circle cx="184.4" cy="697.2" r="3.3"/>
<circle cx="190.7" cy="698.2" r="3.3"/>
<circle cx="195.8" cy="700.9" r="3.3"/>
<circle cx="200.5" cy="702.3" r="3.3"/>
<circle cx="207" cy="703.8" r="3.3"/>
<circle cx="211.9" cy="705" r="3.3"/>
<circle cx="216.8" cy="707.4" r="3.3"/>
<circle cx="223.4" cy="709.6" r="3.3"/>
<circle cx="228.2" cy="712.6" r="3.3"/>
<circle cx="233.3" cy="712.7" r="3.3"/>
<circle cx="239.6" cy="714" r="3.3"/>
<circle cx="244.3" cy="713.9" r="3.3"/>
<circle cx="249.6" cy="713.9" r="3.3"/>
<circle cx="255.9" cy="717.7" r="3.3"/>
<circle cx="261" cy="715" r="3.3"/>
<circle cx="266" cy="721.6" r="3.3"/>
<circle cx="272.2" cy="724.2" r="3.3"/>
<circle cx="277.3" cy="720.9" r="3.3"/>
<circle cx="282.2" cy="723.8" r="3.3"/>
<circle cx="288.7" cy="728.9" r="3.3"/>
<circle cx="293.7" cy="733" r="3.3"/>
<circle cx="298.8" cy="727.7" r="3.3"/>
<circle cx="305.1" cy="734.3" r="3.3"/>
<circle cx="309.9" cy="741.6" r="3.3"/>
<circle cx="315" cy="732.6" r="3.3"/>
<circle cx="321.1" cy="746.9" r="3.3"/>
<circle cx="326.2" cy="736.6" r="3.3"/>
<circle cx="332.4" cy="726.7" r="3.3"/>
<path d="M410.4 637.7V746.5H681" class="ax"/>
<path d="M410.4 650.3h3.2M410.4 673.5h3.2M410.4 697.8h3.2M410.4 721.9h3.2M442.8 746.5v-3.2M491.5 746.5v-3.2M540.2 746.5v-3.2M588.9 746.5v-3.2M637.6 746.5v-3.2" class="ax"/>
<text x="404.3" y="656.3" class="yl">0.37</text>
<text x="404.3" y="679.5" class="yl">0.<tspan class="h">1</tspan>4</text><path d="M583 0V1237L265 1010V1180L598 1409H764V0Z" class="one" transform="translate(387.62 679.50) scale(0.007324 -0.007324)"/>
<text x="404.3" y="703.8" class="yl">0.05</text>
<text x="404.3" y="727.9" class="yl">0.0<tspan class="h">1</tspan>8</text><path d="M583 0V1237L265 1010V1180L598 1409H764V0Z" class="one" transform="translate(387.62 727.90) scale(0.007324 -0.007324)"/>
<text x="442.8" y="763.5" class="xl"><tspan class="h">1</tspan>0</text><path d="M583 0V1237L265 1010V1180L598 1409H764V0Z" class="one" transform="translate(434.46 763.50) scale(0.007324 -0.007324)"/>
<text x="491.5" y="763.5" class="xl"><tspan class="h">1</tspan><tspan class="h">1</tspan></text><path d="M583 0V1237L265 1010V1180L598 1409H764V0Z" class="one" transform="translate(483.16 763.50) scale(0.007324 -0.007324)"/><path d="M583 0V1237L265 1010V1180L598 1409H764V0Z" class="one" transform="translate(491.50 763.50) scale(0.007324 -0.007324)"/>
<text x="540.2" y="763.5" class="xl"><tspan class="h">1</tspan>2</text><path d="M583 0V1237L265 1010V1180L598 1409H764V0Z" class="one" transform="translate(531.86 763.50) scale(0.007324 -0.007324)"/>
<text x="588.9" y="763.5" class="xl"><tspan class="h">1</tspan>3</text><path d="M583 0V1237L265 1010V1180L598 1409H764V0Z" class="one" transform="translate(580.56 763.50) scale(0.007324 -0.007324)"/>
<text x="637.6" y="763.5" class="xl"><tspan class="h">1</tspan>4</text><path d="M583 0V1237L265 1010V1180L598 1409H764V0Z" class="one" transform="translate(629.26 763.50) scale(0.007324 -0.007324)"/>
<polyline points="410.5,634 466,654 531,679 606.9,708 627.3,716.4 675.5,736.4" class="fit"/>
<circle cx="410.5" cy="635.8" r="3.3"/>
<circle cx="415.5" cy="635.5" r="3.3"/>
<circle cx="420.8" cy="638" r="3.3"/>
<circle cx="427.2" cy="640.5" r="3.3"/>
<circle cx="432" cy="642" r="3.3"/>
<circle cx="438.6" cy="643.4" r="3.3"/>
<circle cx="443.4" cy="645.8" r="3.3"/>
<circle cx="448.4" cy="648.7" r="3.3"/>
<circle cx="454.9" cy="649.7" r="3.3"/>
<circle cx="459.7" cy="652.2" r="3.3"/>
<circle cx="466" cy="654.8" r="3.3"/>
<circle cx="471" cy="656.6" r="3.3"/>
<circle cx="476.1" cy="658.9" r="3.3"/>
<circle cx="482.4" cy="660.9" r="3.3"/>
<circle cx="487.2" cy="662.8" r="3.3"/>
<circle cx="493.6" cy="664.7" r="3.3"/>
<circle cx="498.3" cy="666.1" r="3.3"/>
<circle cx="503.3" cy="669" r="3.3"/>
<circle cx="509.9" cy="670.3" r="3.3"/>
<circle cx="515" cy="672.8" r="3.3"/>
<circle cx="521.3" cy="674" r="3.3"/>
<circle cx="526.1" cy="676.6" r="3.3"/>
<circle cx="531.2" cy="680.5" r="3.3"/>
<circle cx="537.6" cy="684.9" r="3.3"/>
<circle cx="542.4" cy="684.2" r="3.3"/>
<circle cx="549" cy="685.7" r="3.3"/>
<circle cx="554.1" cy="688.3" r="3.3"/>
<circle cx="560.3" cy="689.3" r="3.3"/>
<circle cx="565.4" cy="692.2" r="3.3"/>
<circle cx="570.2" cy="694.4" r="3.3"/>
<circle cx="576.3" cy="695.6" r="3.3"/>
<circle cx="581.4" cy="698.1" r="3.3"/>
<circle cx="587.7" cy="702.3" r="3.3"/>
<circle cx="592.5" cy="702.1" r="3.3"/>
<circle cx="597.8" cy="704.7" r="3.3"/>
<circle cx="604" cy="708.7" r="3.3"/>
<circle cx="609.1" cy="703.3" r="3.3"/>
<circle cx="615.2" cy="712.6" r="3.3"/>
<circle cx="620.3" cy="712.6" r="3.3"/>
<circle cx="625.4" cy="708.4" r="3.3"/>
<circle cx="631.7" cy="711.2" r="3.3"/>
<circle cx="636.5" cy="720.4" r="3.3"/>
<circle cx="643" cy="736.9" r="3.3"/>
<circle cx="647.8" cy="735.4" r="3.3"/>
<circle cx="652.9" cy="746.6" r="3.3"/>
<circle cx="659.2" cy="740.8" r="3.3"/>
<circle cx="664.1" cy="737.9" r="3.3"/>
<circle cx="670.7" cy="735.4" r="3.3"/>
<circle cx="675.5" cy="720.1" r="3.3"/>
<circle cx="681.8" cy="731.6" r="3.3"/>
<path d="M59.6 797.7V904.5H331.6" class="ax"/>
<path d="M59.6 797.7h3.2M59.6 820.1h3.2M59.6 842.6h3.2M59.6 864.7h3.2M59.6 886.6h3.2M60 904.5v-3.2M146.3 904.5v-3.2M234.9 904.5v-3.2M323.4 904.5v-3.2" class="ax"/>
<text x="54.7" y="803.7" class="yl"><tspan class="h">1</tspan></text><path d="M583 0V1237L265 1010V1180L598 1409H764V0Z" class="one" transform="translate(46.36 803.70) scale(0.007324 -0.007324)"/>
<text x="54.7" y="826.1" class="yl">0.<tspan class="h">1</tspan>4</text><path d="M583 0V1237L265 1010V1180L598 1409H764V0Z" class="one" transform="translate(38.02 826.10) scale(0.007324 -0.007324)"/>
<text x="54.7" y="848.6" class="yl">0.0<tspan class="h">1</tspan>8</text><path d="M583 0V1237L265 1010V1180L598 1409H764V0Z" class="one" transform="translate(38.02 848.60) scale(0.007324 -0.007324)"/>
<text x="54.7" y="870.7" class="yl">0.0025</text>
<text x="54.7" y="892.6" class="yl">0.00034</text>
<text x="60" y="921" class="xl">0</text>
<text x="146.3" y="921" class="xl">5</text>
<text x="234.9" y="921" class="xl"><tspan class="h">1</tspan>0</text><path d="M583 0V1237L265 1010V1180L598 1409H764V0Z" class="one" transform="translate(226.56 921.00) scale(0.007324 -0.007324)"/>
<text x="323.4" y="921" class="xl"><tspan class="h">1</tspan>5</text><path d="M583 0V1237L265 1010V1180L598 1409H764V0Z" class="one" transform="translate(315.06 921.00) scale(0.007324 -0.007324)"/>
<polyline points="60.1,811.3 329.2,893.5" class="fit"/>
<circle cx="60.1" cy="793.8" r="3.3"/>
<circle cx="70.3" cy="808.8" r="3.3"/>
<circle cx="81.6" cy="815.4" r="3.3"/>
<circle cx="86.7" cy="818.3" r="3.3"/>
<circle cx="93" cy="825.9" r="3.3"/>
<circle cx="97.8" cy="828.5" r="3.3"/>
<circle cx="102.9" cy="830" r="3.3"/>
<circle cx="109.3" cy="831" r="3.3"/>
<circle cx="114.1" cy="831" r="3.3"/>
<circle cx="119.2" cy="832" r="3.3"/>
<circle cx="125.5" cy="833.2" r="3.3"/>
<circle cx="130.6" cy="834.6" r="3.3"/>
<circle cx="135.6" cy="836.1" r="3.3"/>
<circle cx="141.9" cy="838.7" r="3.3"/>
<circle cx="146.7" cy="839.6" r="3.3"/>
<circle cx="151.8" cy="841.2" r="3.3"/>
<circle cx="158.1" cy="843.5" r="3.3"/>
<circle cx="163.2" cy="844.9" r="3.3"/>
<circle cx="168.1" cy="846.1" r="3.3"/>
<circle cx="174.6" cy="848.3" r="3.3"/>
<circle cx="179.6" cy="850" r="3.3"/>
<circle cx="184.4" cy="851.5" r="3.3"/>
<circle cx="190.7" cy="852.7" r="3.3"/>
<circle cx="195.8" cy="853.7" r="3.3"/>
<circle cx="200.5" cy="855.6" r="3.3"/>
<circle cx="207" cy="856.6" r="3.3"/>
<circle cx="211.9" cy="856.6" r="3.3"/>
<circle cx="216.8" cy="857.6" r="3.3"/>
<circle cx="223.4" cy="860.3" r="3.3"/>
<circle cx="228.2" cy="860.3" r="3.3"/>
<circle cx="233.3" cy="862.4" r="3.3"/>
<circle cx="239.6" cy="862.4" r="3.3"/>
<circle cx="244.1" cy="866.4" r="3.3"/>
<circle cx="249.6" cy="869.1" r="3.3"/>
<circle cx="256.2" cy="868.7" r="3.3"/>
<circle cx="261" cy="870.6" r="3.3"/>
<circle cx="266" cy="869.1" r="3.3"/>
<circle cx="272.2" cy="871.6" r="3.3"/>
<circle cx="277.3" cy="874.2" r="3.3"/>
<circle cx="282.2" cy="871.6" r="3.3"/>
<circle cx="288.7" cy="880.8" r="3.3"/>
<circle cx="293.7" cy="890.6" r="3.3"/>
<circle cx="298.8" cy="885.8" r="3.3"/>
<circle cx="305.1" cy="877.9" r="3.3"/>
<circle cx="309.9" cy="890.6" r="3.3"/>
<circle cx="315" cy="889.6" r="3.3"/>
<circle cx="321.1" cy="903.7" r="3.3"/>
<circle cx="326.2" cy="905.2" r="3.3"/>
<circle cx="332.4" cy="884.7" r="3.3"/>
<path d="M410.4 796V904.5H681" class="ax"/>
<path d="M410.4 806.9h3.2M410.4 829.3h3.2M410.4 850.7h3.2M410.4 872.3h3.2M410.4 892.8h3.2M441.6 904.5v-3.2M490.3 904.5v-3.2M539 904.5v-3.2M586.8 904.5v-3.2M635 904.5v-3.2" class="ax"/>
<text x="404.3" y="812.9" class="yl">0.37</text>
<text x="404.3" y="835.3" class="yl">0.<tspan class="h">1</tspan>4</text><path d="M583 0V1237L265 1010V1180L598 1409H764V0Z" class="one" transform="translate(387.62 835.30) scale(0.007324 -0.007324)"/>
<text x="404.3" y="856.7" class="yl">0.05</text>
<text x="404.3" y="878.3" class="yl">0.0<tspan class="h">1</tspan>8</text><path d="M583 0V1237L265 1010V1180L598 1409H764V0Z" class="one" transform="translate(387.62 878.30) scale(0.007324 -0.007324)"/>
<text x="404.3" y="898.8" class="yl">0.0067</text>
<text x="441.6" y="921.5" class="xl"><tspan class="h">1</tspan>0</text><path d="M583 0V1237L265 1010V1180L598 1409H764V0Z" class="one" transform="translate(433.26 921.50) scale(0.007324 -0.007324)"/>
<text x="490.3" y="921.5" class="xl"><tspan class="h">1</tspan><tspan class="h">1</tspan></text><path d="M583 0V1237L265 1010V1180L598 1409H764V0Z" class="one" transform="translate(481.96 921.50) scale(0.007324 -0.007324)"/><path d="M583 0V1237L265 1010V1180L598 1409H764V0Z" class="one" transform="translate(490.30 921.50) scale(0.007324 -0.007324)"/>
<text x="539" y="921.5" class="xl"><tspan class="h">1</tspan>2</text><path d="M583 0V1237L265 1010V1180L598 1409H764V0Z" class="one" transform="translate(530.66 921.50) scale(0.007324 -0.007324)"/>
<text x="586.8" y="921.5" class="xl"><tspan class="h">1</tspan>3</text><path d="M583 0V1237L265 1010V1180L598 1409H764V0Z" class="one" transform="translate(578.46 921.50) scale(0.007324 -0.007324)"/>
<text x="635" y="921.5" class="xl"><tspan class="h">1</tspan>4</text><path d="M583 0V1237L265 1010V1180L598 1409H764V0Z" class="one" transform="translate(626.66 921.50) scale(0.007324 -0.007324)"/>
<polyline points="410.5,793 466,813 531,832 553.4,841.2 595,856.8 614.2,862.8 631.7,870.9 677,887.4" class="fit"/>
<circle cx="410.5" cy="793.8" r="3.3"/>
<circle cx="415.5" cy="794.9" r="3.3"/>
<circle cx="420.8" cy="796.4" r="3.3"/>
<circle cx="427.2" cy="799.3" r="3.3"/>
<circle cx="432" cy="801.8" r="3.3"/>
<circle cx="438.6" cy="802.8" r="3.3"/>
<circle cx="443.4" cy="805.7" r="3.3"/>
<circle cx="448.4" cy="808.1" r="3.3"/>
<circle cx="454.9" cy="809.1" r="3.3"/>
<circle cx="459.7" cy="811.6" r="3.3"/>
<circle cx="466" cy="814.2" r="3.3"/>
<circle cx="471" cy="815.7" r="3.3"/>
<circle cx="476.1" cy="818.3" r="3.3"/>
<circle cx="482.4" cy="819.3" r="3.3"/>
<circle cx="487.2" cy="820.8" r="3.3"/>
<circle cx="493.6" cy="822.2" r="3.3"/>
<circle cx="498.3" cy="824.7" r="3.3"/>
<circle cx="503.3" cy="825.6" r="3.3"/>
<circle cx="509.9" cy="826.9" r="3.3"/>
<circle cx="515" cy="828.4" r="3.3"/>
<circle cx="521.3" cy="829.5" r="3.3"/>
<circle cx="526.1" cy="831" r="3.3"/>
<circle cx="531.2" cy="832" r="3.3"/>
<circle cx="537.6" cy="834.9" r="3.3"/>
<circle cx="542.4" cy="836" r="3.3"/>
<circle cx="549" cy="837.1" r="3.3"/>
<circle cx="554.1" cy="838.6" r="3.3"/>
<circle cx="560.3" cy="840.8" r="3.3"/>
<circle cx="565.4" cy="842.2" r="3.3"/>
<circle cx="570.2" cy="843.7" r="3.3"/>
<circle cx="576.5" cy="847.6" r="3.3"/>
<circle cx="581.4" cy="850" r="3.3"/>
<circle cx="587.7" cy="850" r="3.3"/>
<circle cx="592.5" cy="849.9" r="3.3"/>
<circle cx="597.8" cy="855.1" r="3.3"/>
<circle cx="604" cy="855.1" r="3.3"/>
<circle cx="609.1" cy="855.1" r="3.3"/>
<circle cx="615.2" cy="861.4" r="3.3"/>
<circle cx="620.3" cy="869.1" r="3.3"/>
<circle cx="625.4" cy="866.5" r="3.3"/>
<circle cx="631.7" cy="861.4" r="3.3"/>
<circle cx="636.5" cy="866.5" r="3.3"/>
<circle cx="643" cy="859.9" r="3.3"/>
<circle cx="647.8" cy="877" r="3.3"/>
<circle cx="652.9" cy="884.7" r="3.3"/>
<circle cx="659.2" cy="892.3" r="3.3"/>
<circle cx="664.1" cy="904.7" r="3.3"/>
<circle cx="670.7" cy="900.1" r="3.3"/>
<circle cx="675.5" cy="895.7" r="3.3"/>
<circle cx="681.8" cy="897.4" r="3.3"/>
<text x="217.6" y="42.6" class="tt">Nile</text>
<text x="215.5" y="201.3" class="tt">Yangtze</text>
<text x="185.2" y="350.5" class="tt">Murray-Darling</text>
<text x="180.4" y="514.7" class="tt">Volga</text>
<text x="186.1" y="671.3" class="tt">Mississippi</text>
<text x="188.4" y="832.2" class="tt">Amazon</text>
<text x="124.3" y="945.2" class="tt" style="font-size:14.9px">ln(Drainage Area) mi<tspan dx="1.8" dy="-5.7" style="font-size:11px">2</tspan></text>
<text x="545.8" y="945.2" class="tt" style="text-anchor:middle;font-size:14.9px">ln(Basin Length) mi</text>
</svg>
</body></html>
